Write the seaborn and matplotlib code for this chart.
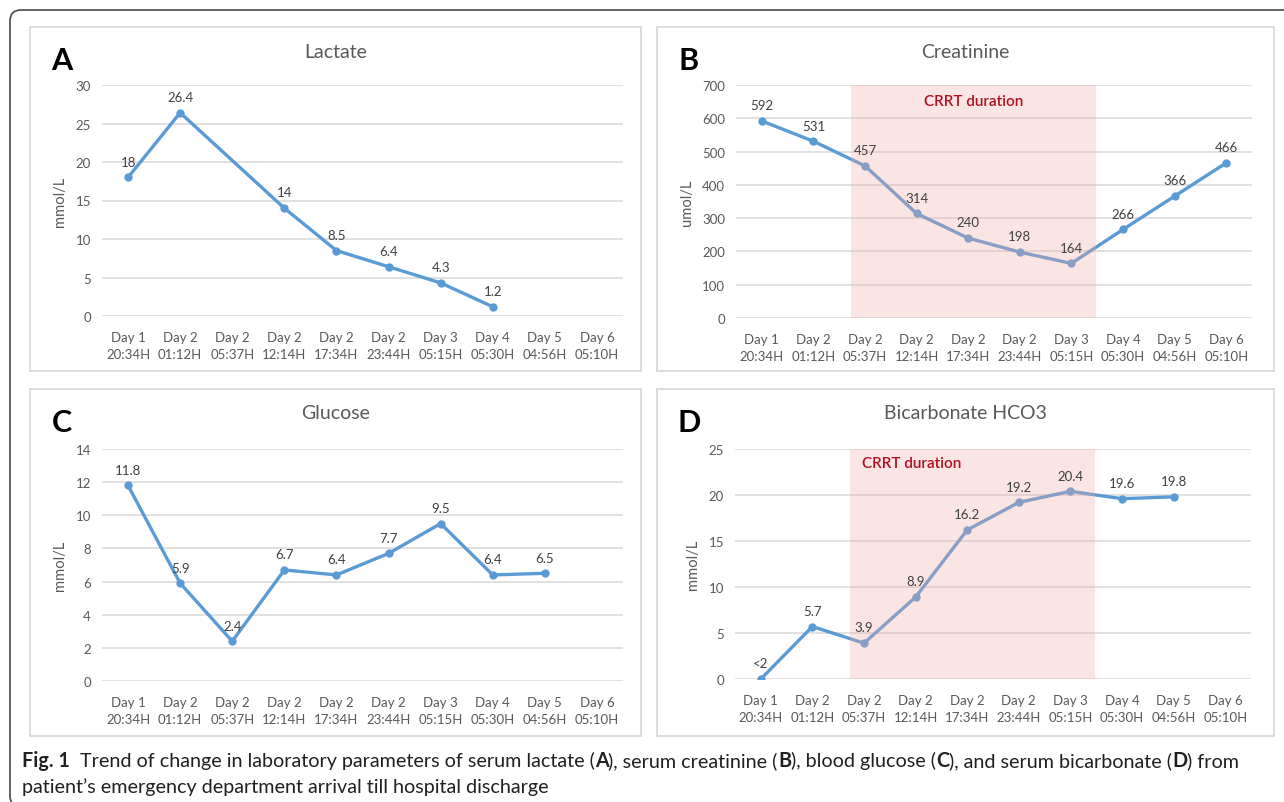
import numpy as np
import pandas as pd
import matplotlib
matplotlib.use("Agg")
import matplotlib.pyplot as plt
import seaborn as sns
from matplotlib.patches import Rectangle, FancyBboxPatch

# ---- data ----
time_labels = ["Day 1\n20:34H", "Day 2\n01:12H", "Day 2\n05:37H", "Day 2\n12:14H",
               "Day 2\n17:34H", "Day 2\n23:44H", "Day 3\n05:15H", "Day 4\n05:30H",
               "Day 5\n04:56H", "Day 6\n05:10H"]

lactate = [18, 26.4, np.nan, 14, 8.5, 6.4, 4.3, 1.2, np.nan, np.nan]
creatinine = [592, 531, 457, 314, 240, 198, 164, 266, 366, 466]
glucose = [11.8, 5.9, 2.4, 6.7, 6.4, 7.7, 9.5, 6.4, 6.5, np.nan]
bicarbonate = [0, 5.7, 3.9, 8.9, 16.2, 19.2, 20.4, 19.6, 19.8, np.nan]
bicarbonate_text = ["<2", "5.7", "3.9", "8.9", "16.2", "19.2", "20.4", "19.6", "19.8", ""]

crrt_span = (1.72, 6.47)   # category positions covered by CRRT

W, H = 1284, 803
LINE = "#5b9bd5"
GREY = "#595959"

sns.set_theme(style="white")
plt.rcParams["font.family"] = ["Lato", "DejaVu Sans"]

fig = plt.figure(figsize=(W / 100, H / 100), dpi=100)


def px_rect(x0, y0, x1, y1):
    return [x0 / W, 1 - y1 / H, (x1 - x0) / W, (y1 - y0) / H]


def draw_panel(box, ax_px, letter, title, values, ylim, yticks, ylabel,
               texts=None, crrt_xy=None):
    # light grey frame around the panel
    fig.add_artist(Rectangle((box[0] / W, 1 - box[3] / H), (box[2] - box[0]) / W,
                             (box[3] - box[1]) / H, transform=fig.transFigure,
                             fill=False, ec="#d9d9d9", lw=1.3))
    cx = (box[0] + box[2]) / 2
    fig.text(cx / W, 1 - (box[1] + 24) / H, title, ha="center", va="center",
             fontsize=14, color=GREY)
    fig.text((box[0] + 32) / W, 1 - (box[1] + 33) / H, letter, ha="center",
             va="center", fontsize=22, fontweight="bold", color="black")

    ax = fig.add_axes(px_rect(*ax_px))
    df = pd.DataFrame({"pos": np.arange(len(values)), "val": values}).dropna()
    sns.lineplot(data=df, x="pos", y="val", ax=ax, color=LINE, linewidth=2.4,
                 marker="o", markersize=6, markeredgewidth=0, zorder=3)
    if texts is None:
        texts = [f"{v:g}" for v in values]
    for p, v in zip(df["pos"], df["val"]):
        ax.annotate(texts[p], (p, v), xytext=(0, 7), textcoords="offset points",
                    ha="center", va="bottom", fontsize=9.5, color="#404040", zorder=5)

    if crrt_xy is not None:
        ax.axvspan(*crrt_span, color="#f4a6a6", alpha=0.3, lw=0, zorder=4)
        ax.text(crrt_xy[0], crrt_xy[1], "CRRT duration", ha="center", va="center",
                fontsize=11, color="#b01020", fontweight="semibold", zorder=6)

    ax.set_xlim(-0.5, len(values) - 0.5)
    ax.set_ylim(*ylim)
    ax.set_yticks(yticks)
    ax.set_xticks(range(len(time_labels)))
    ax.set_xticklabels(time_labels)
    for lab in ax.get_xticklabels():
        lab.set_linespacing(1.45)
    ax.tick_params(axis="both", length=0, labelsize=9.5, labelcolor=GREY)
    ax.tick_params(axis="x", pad=11)
    ax.tick_params(axis="y", pad=8)
    ax.set_xlabel("")
    ax.set_ylabel(ylabel, fontsize=10.6, color=GREY, labelpad=6)
    ax.grid(axis="y", color="#d9d9d9", lw=1.1)
    ax.grid(axis="x", visible=False)
    sns.despine(ax=ax, left=True, bottom=True)
    ax.set_facecolor("none")
    return ax


draw_panel((30, 28, 641, 372), (102, 86, 623, 317), "A", "Lactate", lactate,
           (0, 30), range(0, 31, 5), "mmol/L")
draw_panel((657, 28, 1274, 372), (736, 86, 1252, 319), "B", "Creatinine", creatinine,
           (0, 700), range(0, 701, 100), "umol/L", crrt_xy=(4.1, 651))
draw_panel((30, 390, 641, 737), (102, 450, 623, 682), "C", "Glucose", glucose,
           (0, 14), range(0, 15, 2), "mmol/L")
draw_panel((657, 390, 1274, 737), (735, 450, 1251, 680), "D", "Bicarbonate HCO3",
           bicarbonate, (0, 25), range(0, 26, 5), "mmol/L",
           texts=bicarbonate_text, crrt_xy=(2.93, 23.5))

# outer rounded frame (runs off the right and bottom edges)
fig.add_artist(FancyBboxPatch((0.10, -0.05), 13.5, 7.92 + 0.05,
                              boxstyle="round,pad=0,rounding_size=0.11",
                              transform=fig.dpi_scale_trans, fill=False,
                              ec="#555555", lw=1.3))

# caption with bold runs
caption_lines = [
    [("Fig. 1", "bold"), ("  Trend of change in laboratory parameters of serum lactate (", "normal"),
     ("A", "bold"), ("), serum creatinine (", "normal"), ("B", "bold"),
     ("), blood glucose (", "normal"), ("C", "bold"), ("), and serum bicarbonate (", "normal"),
     ("D", "bold"), (") from", "normal")],
    [("patient\u2019s emergency department arrival till hospital discharge", "normal")],
]
renderer = fig.canvas.get_renderer()
for i, runs in enumerate(caption_lines):
    x = 22
    y = 1 - (767 + i * 26) / H
    for s, w in runs:
        t = fig.text(x / W, y, s, fontsize=14.2, fontweight=w, color="#231f20",
                     ha="left", va="baseline")
        x += t.get_window_extent(renderer).width

fig.savefig("out.png", dpi=100)
